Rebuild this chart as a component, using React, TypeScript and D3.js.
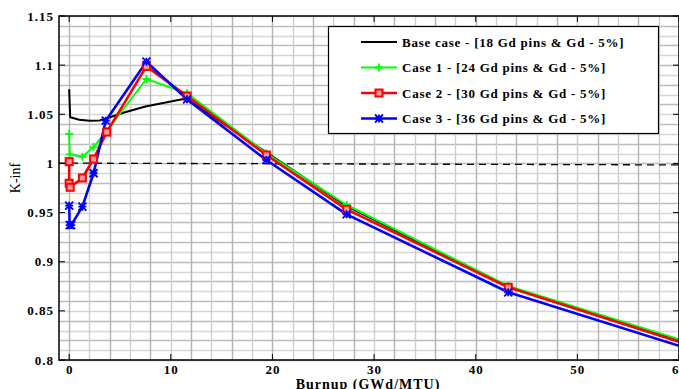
import React, { useEffect, useRef } from "react";
import * as d3 from "d3";

// Burnup points (GWd/MTU) and k-inf values
const baseBurnup = [0, 0.1, 1, 2, 3, 4, 5.5, 7.5, 11.5, 19.4, 27.3, 43.2, 60];
const baseKinf = [1.0755, 1.047, 1.0445, 1.0435, 1.0438, 1.047, 1.052, 1.058, 1.066, 1.0112, 0.9565, 0.8745, 0.82];

const case1Burnup = [0, 0.05, 1.3, 2.4, 3.7, 7.6, 11.6, 19.4, 27.3, 43.2, 60];
const case1Kinf = [1.03, 1.0093, 1.0068, 1.0166, 1.033, 1.0859, 1.0713, 1.0103, 0.9577, 0.8753, 0.8211];
const case2Burnup = [0, 0, 0.1, 1.3, 2.4, 3.7, 7.6, 11.6, 19.4, 27.3, 43.2, 60];
const case2Kinf = [1.0018, 0.9798, 0.9757, 0.9852, 1.0045, 1.0319, 1.0987, 1.0686, 1.0086, 0.9533, 0.874, 0.8186];
const case3Burnup = [0, 0.05, 0.2, 1.3, 2.4, 3.6, 7.6, 11.6, 19.4, 27.3, 43.2, 60];
const case3Kinf = [0.957, 0.9373, 0.9373, 0.956, 0.99, 1.0435, 1.1035, 1.0652, 1.0035, 0.9482, 0.8689, 0.8145];

const criticalLine = [
  { x: -1, y: 1.0003 },
  { x: 60, y: 0.9985 },
];

const xTicks = [0, 10, 20, 30, 40, 50, 60];
const yTicks = [0.8, 0.85, 0.9, 0.95, 1, 1.05, 1.1, 1.15];

const legendLabels = [
  "Base case - [18 Gd pins & Gd - 5%]",
  "Case 1 - [24 Gd pins & Gd - 5%]",
  "Case 2 - [30 Gd pins & Gd - 5%]",
  "Case 3 - [36 Gd pins & Gd - 5%]",
];

type Pt = { x: number; y: number };
const zip = (xs: number[], ys: number[]): Pt[] => ys.map((y, i) => ({ x: xs[i], y }));

const series = [
  { name: legendLabels[0], color: "#000000", width: 2, marker: "none", data: zip(baseBurnup, baseKinf) },
  { name: legendLabels[1], color: "#00ff00", width: 2, marker: "plus", data: zip(case1Burnup, case1Kinf) },
  { name: legendLabels[2], color: "#ff0000", width: 2.6, marker: "square", data: zip(case2Burnup, case2Kinf) },
  { name: legendLabels[3], color: "#0000ff", width: 2.6, marker: "star", data: zip(case3Burnup, case3Kinf) },
];

const W = 679;
const H = 389;
const m = { left: 59, right: 0, top: 16, bottom: 29 };

function drawMarker(g: any, kind: string, color: string, cx: number, cy: number) {
  const s = 4;
  if (kind === "plus") {
    g.append("path")
      .attr("d", `M${cx - s},${cy}H${cx + s}M${cx},${cy - s}V${cy + s}`)
      .attr("stroke", color)
      .attr("stroke-width", 1.8)
      .attr("fill", "none");
  } else if (kind === "square") {
    g.append("rect")
      .attr("x", cx - 3.5)
      .attr("y", cy - 3.5)
      .attr("width", 7)
      .attr("height", 7)
      .attr("fill", "#ff9a9a")
      .attr("stroke", color)
      .attr("stroke-width", 2);
  } else if (kind === "star") {
    g.append("path")
      .attr(
        "d",
        `M${cx - s},${cy - s}L${cx + s},${cy + s}M${cx - s},${cy + s}L${cx + s},${cy - s}M${cx},${cy - s}V${cy + s}M${cx - s},${cy}H${cx + s}`
      )
      .attr("stroke", color)
      .attr("stroke-width", 1.8)
      .attr("fill", "none");
  }
}

const App = () => {
  const svgRef = useRef<SVGSVGElement>(null);

  useEffect(() => {
    const svg = d3.select(svgRef.current);
    svg.selectAll("*").remove();

    const x = d3.scaleLinear().domain([-1, 60]).range([m.left, W - m.right]);
    const y = d3.scaleLinear().domain([0.8, 1.15]).range([H - m.bottom, m.top]);
    const font = "'Liberation Serif', 'Times New Roman', serif";

    svg.append("rect").attr("width", W).attr("height", H).attr("fill", "white");

    // grid
    const grid = svg.append("g");
    const hVals = d3.range(0.8, 1.1501, 0.01);
    grid
      .selectAll("line.h")
      .data(hVals)
      .join("line")
      .attr("x1", x(-1))
      .attr("x2", x(60))
      .attr("y1", (d) => Math.round(y(d)) + 0.5)
      .attr("y2", (d) => Math.round(y(d)) + 0.5)
      .attr("stroke", (d, i) => (i % 2 === 0 ? "#bcbcbc" : "#d6d6d6"))
      .attr("stroke-width", 1.4);
    const vVals = d3.range(0, 61, 2);
    grid
      .selectAll("line.v")
      .data(vVals)
      .join("line")
      .attr("x1", (d) => Math.round(x(d)) + 0.5)
      .attr("x2", (d) => Math.round(x(d)) + 0.5)
      .attr("y1", y(0.8))
      .attr("y2", y(1.15))
      .attr("stroke", (d, i) => (i % 2 === 0 ? "#b4b4b4" : "#cecece"))
      .attr("stroke-width", 1.4);

    // critical reference line
    svg
      .append("path")
      .datum(criticalLine)
      .attr("fill", "none")
      .attr("stroke", "#000")
      .attr("stroke-width", 1.3)
      .attr("stroke-dasharray", "7,5")
      .attr(
        "d",
        d3
          .line<Pt>()
          .x((d) => x(d.x))
          .y((d) => y(d.y))
      );

    // series
    const line = d3
      .line<Pt>()
      .x((d) => x(d.x))
      .y((d) => y(d.y));
    series.forEach((s) => {
      svg
        .append("path")
        .datum(s.data)
        .attr("fill", "none")
        .attr("stroke", s.color)
        .attr("stroke-width", s.width)
        .attr("stroke-linejoin", "round")
        .attr("d", line);
    });
    series.forEach((s) => {
      if (s.marker === "none") return;
      const g = svg.append("g");
      s.data
        .filter((d) => d.x < 59)
        .forEach((d) => drawMarker(g, s.marker, s.color, x(d.x), y(d.y)));
    });

    // axes frame
    const axisG = svg.append("g").attr("font-family", font);
    axisG
      .append("rect")
      .attr("x", x(-1))
      .attr("y", y(1.15))
      .attr("width", x(60) - x(-1))
      .attr("height", y(0.8) - y(1.15))
      .attr("fill", "none")
      .attr("stroke", "#000")
      .attr("stroke-width", 1.5);

    xTicks.forEach((t) => {
      axisG.append("line").attr("x1", x(t)).attr("x2", x(t)).attr("y1", y(0.8)).attr("y2", y(0.8) - 6).attr("stroke", "#000");
      axisG.append("line").attr("x1", x(t)).attr("x2", x(t)).attr("y1", y(1.15)).attr("y2", y(1.15) + 6).attr("stroke", "#000");
      axisG
        .append("text")
        .attr("x", x(t) + 0.5)
        .attr("y", y(0.8) + 14)
        .attr("text-anchor", "middle")
        .attr("font-size", 13)
        .attr("font-weight", "bold")
        .attr("letter-spacing", 1)
        .text(d3.format("d")(t));
    });
    yTicks.forEach((t) => {
      axisG.append("line").attr("x1", x(-1)).attr("x2", x(-1) + 6).attr("y1", y(t)).attr("y2", y(t)).attr("stroke", "#000");
      axisG.append("line").attr("x1", x(60) - 6).attr("x2", x(60)).attr("y1", y(t)).attr("y2", y(t)).attr("stroke", "#000");
      axisG
        .append("text")
        .attr("x", x(-1) - 5)
        .attr("y", y(t) + 4.5)
        .attr("text-anchor", "end")
        .attr("font-size", 13)
        .attr("font-weight", "bold")
        .attr("letter-spacing", 1)
        .text(String(t));
    });

    axisG
      .append("text")
      .attr("transform", `translate(20,178) rotate(-90)`)
      .attr("text-anchor", "middle")
      .attr("font-size", 14)
      .text("K-inf");
    axisG
      .append("text")
      .attr("x", 368)
      .attr("y", 388.5)
      .attr("text-anchor", "middle")
      .attr("font-size", 14)
      .attr("font-weight", "bold")
      .attr("letter-spacing", 1)
      .text("Burnup (GWd/MTU)");

    // legend
    const lg = svg.append("g").attr("font-family", font);
    lg.append("rect")
      .attr("x", 328.5)
      .attr("y", 26.5)
      .attr("width", 330)
      .attr("height", 107)
      .attr("fill", "white")
      .attr("stroke", "#000")
      .attr("stroke-width", 1.2);
    series.forEach((s, i) => {
      const cy = 42 + i * 25.5;
      lg.append("line")
        .attr("x1", 361)
        .attr("x2", 397)
        .attr("y1", cy)
        .attr("y2", cy)
        .attr("stroke", s.color)
        .attr("stroke-width", s.width);
      if (s.marker !== "none") drawMarker(lg, s.marker, s.color, 379, cy);
      lg.append("text")
        .attr("x", 402)
        .attr("y", cy + 4.5)
        .attr("font-size", 13)
        .attr("font-weight", "bold")
        .attr("letter-spacing", 0.75)
        .text(s.name);
    });
  }, []);

  return (
    <svg
      ref={svgRef}
      width={W}
      height={H}
      style={{ position: "absolute", left: 0, top: 0 }}
    />
  );
};

export default App;
